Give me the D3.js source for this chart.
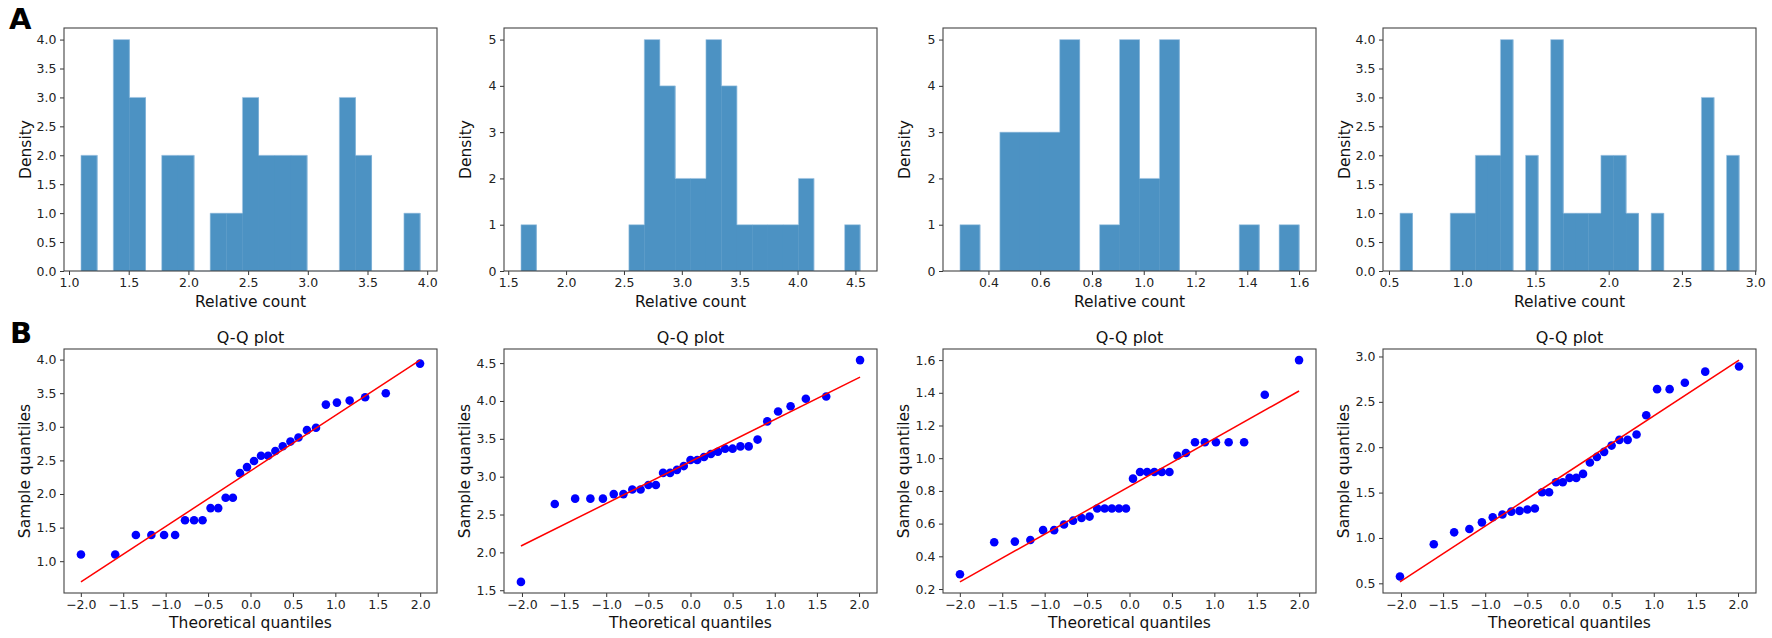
<!DOCTYPE html>
<html>
<head>
<meta charset="utf-8">
<script src="https://cdn.jsdelivr.net/npm/d3@7"></script>
<style>
  html, body { margin: 0; padding: 0; background: #fff; }
  svg { display: block; font-family: "DejaVu Sans", sans-serif; }
</style>
</head>
<body>
<svg id="chart" width="1772" height="638"></svg>
<script>
// ---- data ----
const sample1 = [1.10,1.10,1.39,1.39,1.39,1.39,1.61,1.61,1.61,1.79,1.79,1.945,1.945,2.31,2.40,2.49,2.57,2.57,2.64,2.71,2.78,2.84,2.95,2.985,3.33,3.36,3.39,3.44,3.50,3.94];
const sample2 = [1.61,2.64,2.71,2.71,2.71,2.77,2.77,2.83,2.83,2.89,2.89,3.05,3.05,3.09,3.14,3.22,3.22,3.26,3.30,3.33,3.37,3.37,3.40,3.40,3.49,3.73,3.86,3.93,4.03,4.06,4.54];
const sample3 = [0.29,0.486,0.49,0.50,0.56,0.56,0.595,0.618,0.634,0.643,0.692,0.692,0.692,0.692,0.692,0.875,0.916,0.916,0.916,0.916,0.916,1.015,1.032,1.098,1.098,1.098,1.098,1.098,1.388,1.60];
const sample4 = [0.575,0.93,1.062,1.099,1.172,1.228,1.258,1.29,1.298,1.313,1.324,1.504,1.504,1.614,1.614,1.662,1.662,1.706,1.831,1.893,1.949,2.018,2.081,2.081,2.14,2.353,2.64,2.64,2.71,2.833,2.89];
const samples = [sample1, sample2, sample3, sample4];
const histBinCounts = [21, 22, 17, 27];

const histXTicks = [
  [1.0,1.5,2.0,2.5,3.0,3.5,4.0],
  [1.5,2.0,2.5,3.0,3.5,4.0,4.5],
  [0.4,0.6,0.8,1.0,1.2,1.4,1.6],
  [0.5,1.0,1.5,2.0,2.5,3.0]
];
const histYTicks = [
  [0,0.5,1.0,1.5,2.0,2.5,3.0,3.5,4.0],
  [0,1,2,3,4,5],
  [0,1,2,3,4,5],
  [0,0.5,1.0,1.5,2.0,2.5,3.0,3.5,4.0]
];
const histYFormats = [".1f", "d", "d", ".1f"];
const qqXTicks = [-2.0,-1.5,-1.0,-0.5,0.0,0.5,1.0,1.5,2.0];
const qqYTicks = [
  [1.0,1.5,2.0,2.5,3.0,3.5,4.0],
  [1.5,2.0,2.5,3.0,3.5,4.0,4.5],
  [0.2,0.4,0.6,0.8,1.0,1.2,1.4,1.6],
  [0.5,1.0,1.5,2.0,2.5,3.0]
];
const qqYFormats = [".1f", ".1f", ".1f", ".1f"];

const labels = {
  histX: "Relative count", histY: "Density",
  qqTitle: "Q-Q plot", qqX: "Theoretical quantiles", qqY: "Sample quantiles",
  panelA: "A", panelB: "B"
};

// ---- layout ----
const panelLefts = [64, 504, 943, 1383];
const panelW = 373;
const histTop = 28, histBottom = 271;
const qqTop = 349, qqBottom = 593;
const barColor = d3.interpolateRgb("#ffffff", "#1f77b4")(0.8);
const tickFont = 12.5, labelFont = 15.5;

const svg = d3.select("#chart");

// inverse standard normal CDF (Acklam)
function normInv(p) {
  const a = [-3.969683028665376e+01, 2.209460984245205e+02, -2.759285104469687e+02, 1.383577518672690e+02, -3.066479806614716e+01, 2.506628277459239e+00];
  const b = [-5.447609879822406e+01, 1.615858368580409e+02, -1.556989798598866e+02, 6.680131188771972e+01, -1.328068155288572e+01];
  const c = [-7.784894002430293e-03, -3.223964580411365e-01, -2.400758277161838e+00, -2.549732539343734e+00, 4.374664141464968e+00, 2.938163982698783e+00];
  const d = [7.784695709041462e-03, 3.224671290700398e-01, 2.445134137142996e+00, 3.754408661907416e+00];
  const plow = 0.02425;
  let q, r;
  if (p < plow) {
    q = Math.sqrt(-2 * Math.log(p));
    return (((((c[0]*q+c[1])*q+c[2])*q+c[3])*q+c[4])*q+c[5]) / ((((d[0]*q+d[1])*q+d[2])*q+d[3])*q+1);
  } else if (p <= 1 - plow) {
    q = p - 0.5; r = q*q;
    return (((((a[0]*r+a[1])*r+a[2])*r+a[3])*r+a[4])*r+a[5])*q / (((((b[0]*r+b[1])*r+b[2])*r+b[3])*r+b[4])*r+1);
  } else {
    q = Math.sqrt(-2 * Math.log(1 - p));
    return -(((((c[0]*q+c[1])*q+c[2])*q+c[3])*q+c[4])*q+c[5]) / ((((d[0]*q+d[1])*q+d[2])*q+d[3])*q+1);
  }
}
// Filliben order statistic medians (as scipy.stats.probplot)
function theoretical(n) {
  const u = new Array(n);
  u[n-1] = Math.pow(0.5, 1 / n);
  u[0] = 1 - u[n-1];
  for (let i = 2; i < n; i++) u[i-1] = (i - 0.3175) / (n + 0.365);
  return u.map(normInv);
}

function styleAxis(g) {
  g.select(".domain").remove();
  g.selectAll(".tick line").attr("stroke", "#333").attr("stroke-width", 1);
  g.selectAll(".tick text").attr("fill", "#222").style("font-size", tickFont + "px").style("font-family", "DejaVu Sans");
}

function frame(left, top, bottom) {
  svg.append("rect").attr("x", left).attr("y", top).attr("width", panelW).attr("height", bottom - top)
    .attr("fill", "none").attr("stroke", "#444").attr("stroke-width", 1.1);
}

samples.forEach((data, p) => {
  const left = panelLefts[p];
  const right = left + panelW;
  // ---------- histogram ----------
  const mn = d3.min(data), mx = d3.max(data);
  const nb = histBinCounts[p];
  const w = (mx - mn) / nb;
  const counts = new Array(nb).fill(0);
  data.forEach(v => { counts[Math.min(nb - 1, Math.floor((v - mn) / w))] += 1; });
  const bins = counts.map((c, i) => ({ x0: mn + i * w, x1: mn + (i + 1) * w, c }));
  const rng = mx - mn;
  const hx = d3.scaleLinear().domain([mn - 0.05 * rng, mx + 0.05 * rng]).range([left, right]);
  const hy = d3.scaleLinear().domain([0, d3.max(counts) * 1.05]).range([histBottom, histTop]);

  svg.append("g").selectAll("rect").data(bins.filter(b => b.c > 0)).join("rect")
    .attr("x", b => hx(b.x0)).attr("width", b => hx(b.x1) - hx(b.x0) + 0.4)
    .attr("y", b => hy(b.c)).attr("height", b => hy(0) - hy(b.c))
    .attr("fill", barColor);

  // faint light outline of the step shape
  const stepPts = [{ x: bins[0].x0, c: 0 }]
    .concat(bins.map(b => ({ x: b.x0, c: b.c })))
    .concat([{ x: bins[nb - 1].x1, c: 0 }]);
  svg.append("path").datum(stepPts)
    .attr("d", d3.line().curve(d3.curveStepAfter).x(d => hx(d.x)).y(d => hy(d.c)))
    .attr("fill", "none").attr("stroke", "#a9cbe6").attr("stroke-width", 0.8).attr("stroke-opacity", 0.7);

  svg.append("g").attr("transform", `translate(0,${histBottom})`)
    .call(d3.axisBottom(hx).tickValues(histXTicks[p]).tickFormat(d3.format(".1f")).tickSize(4).tickPadding(3.5))
    .call(styleAxis);
  svg.append("g").attr("transform", `translate(${left},0)`)
    .call(d3.axisLeft(hy).tickValues(histYTicks[p]).tickFormat(d3.format(histYFormats[p])).tickSize(4).tickPadding(3.5))
    .call(styleAxis);
  frame(left, histTop, histBottom);

  svg.append("text").attr("x", (left + right) / 2).attr("y", histBottom + 36)
    .attr("text-anchor", "middle").style("font-size", labelFont + "px").attr("fill", "#111").text(labels.histX);
  svg.append("text").attr("transform", `translate(${left - 33},${(histTop + histBottom) / 2}) rotate(-90)`)
    .attr("text-anchor", "middle").style("font-size", labelFont + "px").attr("fill", "#111").text(labels.histY);

  // ---------- Q-Q plot ----------
  const sorted = data.slice().sort((a, b) => a - b);
  const osm = theoretical(sorted.length);
  const pts = osm.map((t, i) => ({ t, s: sorted[i] }));
  const mt = d3.mean(osm), ms = d3.mean(sorted);
  let sxy = 0, sxx = 0;
  pts.forEach(d => { sxy += (d.t - mt) * (d.s - ms); sxx += (d.t - mt) * (d.t - mt); });
  const slope = sxy / sxx, intercept = ms - slope * mt;
  const line = [osm[0], osm[osm.length - 1]].map(t => ({ t, s: slope * t + intercept }));

  const tmin = d3.min(osm), tmax = d3.max(osm);
  const ymin = Math.min(d3.min(sorted), line[0].s, line[1].s);
  const ymax = Math.max(d3.max(sorted), line[0].s, line[1].s);
  const tr = tmax - tmin, yr = ymax - ymin;
  const qx = d3.scaleLinear().domain([tmin - 0.05 * tr, tmax + 0.05 * tr]).range([left, right]);
  const qy = d3.scaleLinear().domain([ymin - 0.05 * yr, ymax + 0.05 * yr]).range([qqBottom, qqTop]);

  svg.append("g").selectAll("circle").data(pts).join("circle")
    .attr("cx", d => qx(d.t)).attr("cy", d => qy(d.s)).attr("r", 4.3).attr("fill", "#0000ff");
  svg.append("path").datum(line)
    .attr("d", d3.line().x(d => qx(d.t)).y(d => qy(d.s)))
    .attr("stroke", "#ff0000").attr("stroke-width", 1.5).attr("fill", "none");

  svg.append("g").attr("transform", `translate(0,${qqBottom})`)
    .call(d3.axisBottom(qx).tickValues(qqXTicks).tickFormat(d3.format(".1f")).tickSize(4).tickPadding(3.5))
    .call(styleAxis);
  svg.append("g").attr("transform", `translate(${left},0)`)
    .call(d3.axisLeft(qy).tickValues(qqYTicks[p]).tickFormat(d3.format(qqYFormats[p])).tickSize(4).tickPadding(3.5))
    .call(styleAxis);
  frame(left, qqTop, qqBottom);

  svg.append("text").attr("x", (left + right) / 2).attr("y", qqTop - 6)
    .attr("text-anchor", "middle").style("font-size", "16px").attr("fill", "#111").text(labels.qqTitle);
  svg.append("text").attr("x", (left + right) / 2).attr("y", qqBottom + 35)
    .attr("text-anchor", "middle").style("font-size", labelFont + "px").attr("fill", "#111").text(labels.qqX);
  svg.append("text").attr("transform", `translate(${left - 34},${(qqTop + qqBottom) / 2}) rotate(-90)`)
    .attr("text-anchor", "middle").style("font-size", labelFont + "px").attr("fill", "#111").text(labels.qqY);
});

svg.append("text").attr("x", 9).attr("y", 29).style("font-size", "29px").style("font-weight", "bold").attr("fill", "#000").text(labels.panelA);
svg.append("text").attr("x", 10).attr("y", 343).style("font-size", "29px").style("font-weight", "bold").attr("fill", "#000").text(labels.panelB);
</script>
</body>
</html>
